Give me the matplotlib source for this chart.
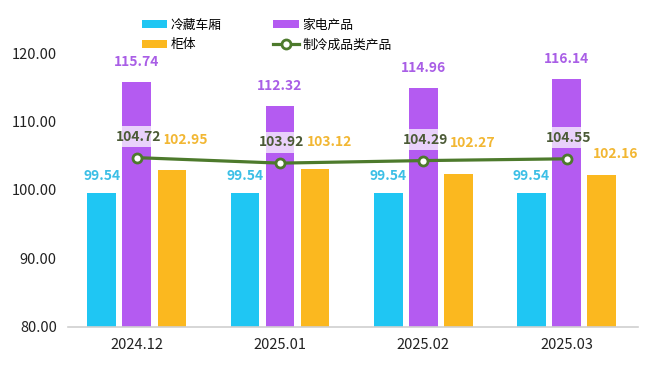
import numpy as np
import matplotlib
matplotlib.use('Agg')
import matplotlib.pyplot as plt

plt.rcParams['font.family'] = ['Noto Sans CJK SC', 'DejaVu Sans']

# Data
months = ['2024.12', '2025.01', '2025.02', '2025.03']
cold_box = [99.54, 99.54, 99.54, 99.54]        # 冷藏车厢
appliance = [115.74, 112.32, 114.96, 116.14]   # 家电产品
cabinet = [102.95, 103.12, 102.27, 102.16]     # 柜体
refrig = [104.72, 103.92, 104.29, 104.55]      # 制冷成品类产品

c_cyan = '#1FC6F3'
c_purple = '#B45BF1'
c_orange = '#FBB81F'
c_green = '#4D7A2C'

fig = plt.figure(figsize=(6.6, 3.66), dpi=100)
ax = fig.add_axes([0.103, 0.107, 0.864, 0.748])

x = np.arange(len(months))
w = 0.2
step = 0.245

b1 = ax.bar(x - step, cold_box, width=w, color=c_cyan, label='冷藏车厢', zorder=2)
b2 = ax.bar(x, appliance, width=w, color=c_purple, label='家电产品', zorder=2)
b3 = ax.bar(x + step, cabinet, width=w, color=c_orange, label='柜体', zorder=2)
ln, = ax.plot(x, refrig, color=c_green, linewidth=2.3, marker='o', markersize=6.5,
              markerfacecolor='white', markeredgecolor=c_green, markeredgewidth=2,
              label='制冷成品类产品', zorder=4)

ax.set_ylim(80, 120)
ax.set_xlim(-0.48, 3.5)
ax.set_yticks([80, 90, 100, 110, 120])
ax.set_yticklabels([f'{v:.2f}' for v in [80, 90, 100, 110, 120]])
ax.set_xticks(x)
ax.set_xticklabels(months)
ax.tick_params(axis='both', length=0, labelsize=10.5, colors='#222222')
ax.tick_params(axis='y', pad=8)
ax.tick_params(axis='x', pad=8)
for s in ['top', 'right', 'left']:
    ax.spines[s].set_visible(False)
ax.spines['bottom'].set_color('#D0D0D0')
ax.spines['bottom'].set_linewidth(1.2)

px = 0.72  # points per pixel at 100 dpi
lab = dict(ha='center', va='center', fontsize=10, fontweight='bold', textcoords='offset points')

for i in range(len(months)):
    ax.annotate(f'{cold_box[i]:.2f}', (x[i] - step, cold_box[i]), xytext=(0, 17 * px),
                color='#3CBFE6', **lab)
    ax.annotate(f'{appliance[i]:.2f}', (x[i], appliance[i]), xytext=(0, 20 * px),
                color='#A95EE6', **lab)
    ax.annotate(f'{refrig[i]:.2f}', (x[i], refrig[i]), xytext=(2 * px, 21 * px),
                color='#4B5A36', zorder=5,
                bbox=dict(boxstyle='square,pad=0.25', facecolor='white', edgecolor='none', alpha=0.72),
                **lab)

orange_off = [30, 27, 31, 21]
for i in range(len(months)):
    ax.annotate(f'{cabinet[i]:.2f}', (x[i] + step, cabinet[i]), xytext=(14 * px, orange_off[i] * px),
                color='#F2B733', **lab)

fig.legend(handles=[b1, b3, b2, ln], ncol=2, loc='upper left', bbox_to_anchor=(0.197, 0.981),
           frameon=False, fontsize=9.2, handlelength=2.0, handleheight=0.65,
           columnspacing=4.0, labelspacing=0.55, handletextpad=0.3)

fig.savefig('out.png', dpi=100)
